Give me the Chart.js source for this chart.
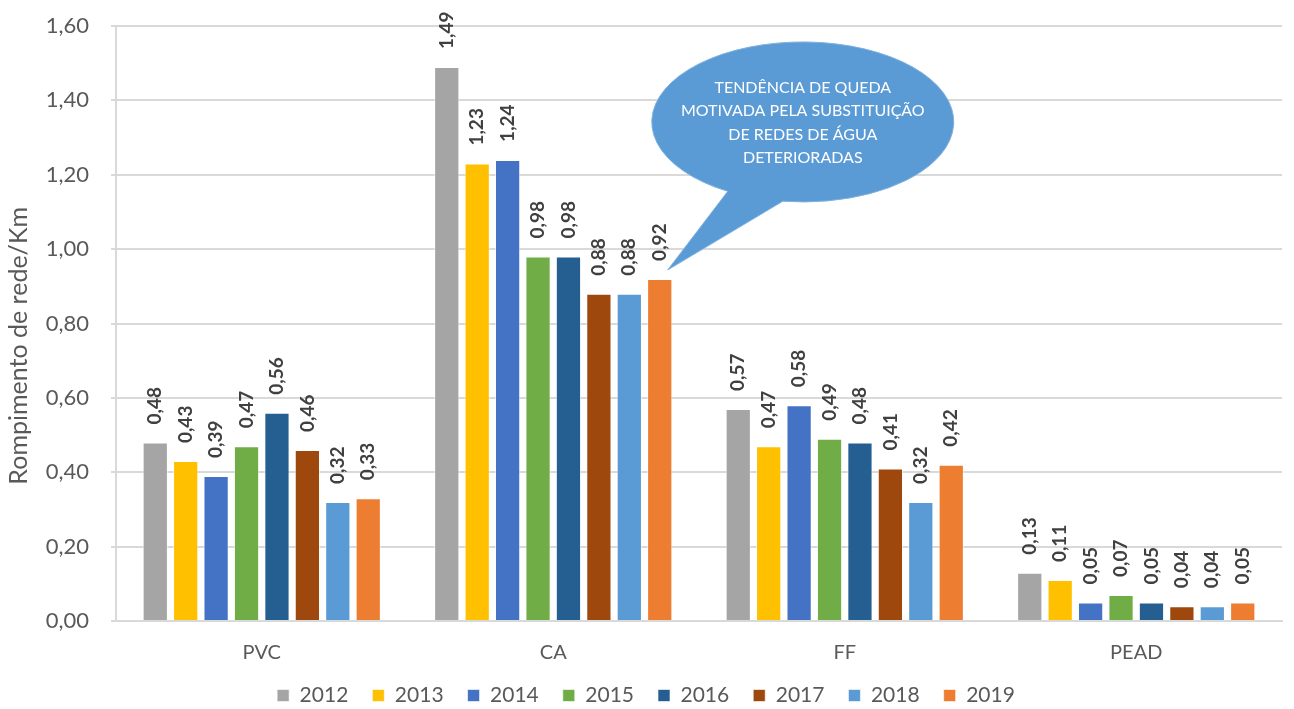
<!DOCTYPE html>
<html lang="pt">
<head>
<meta charset="utf-8">
<title>Rompimento de rede por material</title>
<script src="https://cdn.jsdelivr.net/npm/chart.js@4/dist/chart.umd.min.js"></script>
<style>
  html, body { margin: 0; padding: 0; background: #fff; }
  #wrap { width: 1294px; height: 709px; position: relative; }
</style>
</head>
<body>
<div id="wrap"><canvas id="grafico"></canvas></div>
<script>
// materiais e anos
const materiais = ['PVC', 'CA', 'FF', 'PEAD'];
const anos = ['2012', '2013', '2014', '2015', '2016', '2017', '2018', '2019'];

// rompimentos por km, um array por ano (PVC, CA, FF, PEAD)
const v2012 = [0.48, 1.49, 0.57, 0.13];
const v2013 = [0.43, 1.23, 0.47, 0.11];
const v2014 = [0.39, 1.24, 0.58, 0.05];
const v2015 = [0.47, 0.98, 0.49, 0.07];
const v2016 = [0.56, 0.98, 0.48, 0.05];
const v2017 = [0.46, 0.88, 0.41, 0.04];
const v2018 = [0.32, 0.88, 0.32, 0.04];
const v2019 = [0.33, 0.92, 0.42, 0.05];

const cores = ['#A5A5A5', '#FFC000', '#4472C4', '#70AD47', '#255E91', '#9E480E', '#5B9BD5', '#ED7D31'];
const serieValores = [v2012, v2013, v2014, v2015, v2016, v2017, v2018, v2019];

const yTicks = [0, 0.2, 0.4, 0.6, 0.8, 1.0, 1.2, 1.4, 1.6];

const tituloY = 'Rompimento de rede/Km';
const balaoTexto = ['TENDÊNCIA DE QUEDA', 'MOTIVADA PELA SUBSTITUIÇÃO', 'DE REDES DE ÁGUA', 'DETERIORADAS'];

const fonte = 'Lato, "Open Sans", sans-serif';
const virgula = v => v.toFixed(2).replace('.', ',');

// rótulos verticais acima de cada barra
const rotulosBarras = {
  id: 'rotulosBarras',
  afterDatasetsDraw(chart) {
    const ctx = chart.ctx;
    ctx.save();
    ctx.font = 'bold 19px ' + fonte;
    ctx.fillStyle = '#404040';
    ctx.textAlign = 'left';
    ctx.textBaseline = 'middle';
    chart.data.datasets.forEach((ds, i) => {
      chart.getDatasetMeta(i).data.forEach((bar, j) => {
        ctx.save();
        ctx.translate(bar.x, bar.y - 18);
        ctx.rotate(-Math.PI / 2);
        ctx.fillText(virgula(ds.data[j]), 0, 0);
        ctx.restore();
      });
    });
    ctx.restore();
  }
};

// título do eixo Y, deslocado um pouco abaixo do centro da área
const tituloEixo = {
  id: 'tituloEixo',
  afterDraw(chart) {
    const ctx = chart.ctx;
    const y = chart.scales.y;
    ctx.save();
    ctx.translate(19, y.getPixelForValue(0.74));
    ctx.rotate(-Math.PI / 2);
    ctx.font = '25px ' + fonte;
    ctx.fillStyle = '#595959';
    ctx.textAlign = 'center';
    ctx.textBaseline = 'middle';
    ctx.fillText(tituloY, 0, 0);
    ctx.restore();
  }
};

// balão de comentário apontando para a barra de 2019 do CA
const balao = {
  id: 'balao',
  afterDraw(chart) {
    const ctx = chart.ctx;
    const area = chart.chartArea;
    const y = chart.scales.y;
    const alvo = chart.getDatasetMeta(7).data[1];
    const cx = area.left + 0.589 * (area.right - area.left);
    const cy = y.getPixelForValue(1.342);
    const rx = 151, ry = 80;
    const a1 = 97.6 * Math.PI / 180, a2 = 119.8 * Math.PI / 180;
    const pontaX = alvo.x + 8, pontaY = alvo.y - 9;

    ctx.save();
    ctx.beginPath();
    ctx.ellipse(cx, cy, rx, ry, 0, a2, a1 + Math.PI * 2);
    ctx.lineTo(pontaX, pontaY);
    ctx.closePath();
    ctx.fillStyle = '#5B9BD5';
    ctx.fill();
    ctx.lineWidth = 1;
    ctx.strokeStyle = '#7fb1df';
    ctx.stroke();

    ctx.fillStyle = '#ffffff';
    ctx.font = '16px ' + fonte;
    ctx.textAlign = 'center';
    ctx.textBaseline = 'middle';
    balaoTexto.forEach((linha, k) => {
      ctx.fillText(linha, cx, cy - 34 + k * 23.3);
    });
    ctx.restore();
  }
};

const datasets = anos.map((ano, i) => ({
  label: ano,
  data: serieValores[i],
  backgroundColor: cores[i],
  borderColor: 'rgba(255,255,255,0.6)',
  borderWidth: 1,
  categoryPercentage: 0.835,
  barPercentage: 0.83
}));

new Chart(document.getElementById('grafico'), {
  type: 'bar',
  data: { labels: materiais, datasets: datasets },
  options: {
    responsive: true,
    maintainAspectRatio: false,
    animation: false,
    layout: { autoPadding: false, padding: { top: 26, right: 12, left: 10, bottom: -7 } },
    plugins: {
      legend: {
        position: 'bottom',
        labels: {
          font: { family: fonte, size: 21 },
          color: '#595959',
          boxWidth: 12,
          boxHeight: 12,
          padding: 24
        }
      },
      tooltip: { enabled: false }
    },
    scales: {
      y: {
        min: 0,
        max: 1.6,
        afterBuildTicks: axis => { axis.ticks = yTicks.map(v => ({ value: v })); },
        afterFit: axis => {
          axis.width = 106;
          // o espaço do rótulo 1,60 fica por conta do padding do layout
          axis.paddingTop = 0;
          axis.paddingBottom = 0;
        },
        ticks: {
          callback: v => virgula(v),
          font: { family: fonte, size: 22 },
          color: '#595959',
          padding: 22
        },
        grid: { color: '#d9d9d9', lineWidth: 2, tickLength: 5 },
        border: { color: '#d9d9d9', width: 2 }
      },
      x: {
        afterFit: axis => { axis.height -= 24; },
        ticks: {
          font: { family: fonte, size: 20 },
          color: '#595959',
          padding: 20
        },
        grid: { display: false, drawTicks: false },
        border: { color: '#d9d9d9', width: 2 }
      }
    }
  },
  plugins: [rotulosBarras, tituloEixo, balao]
});
</script>
</body>
</html>
